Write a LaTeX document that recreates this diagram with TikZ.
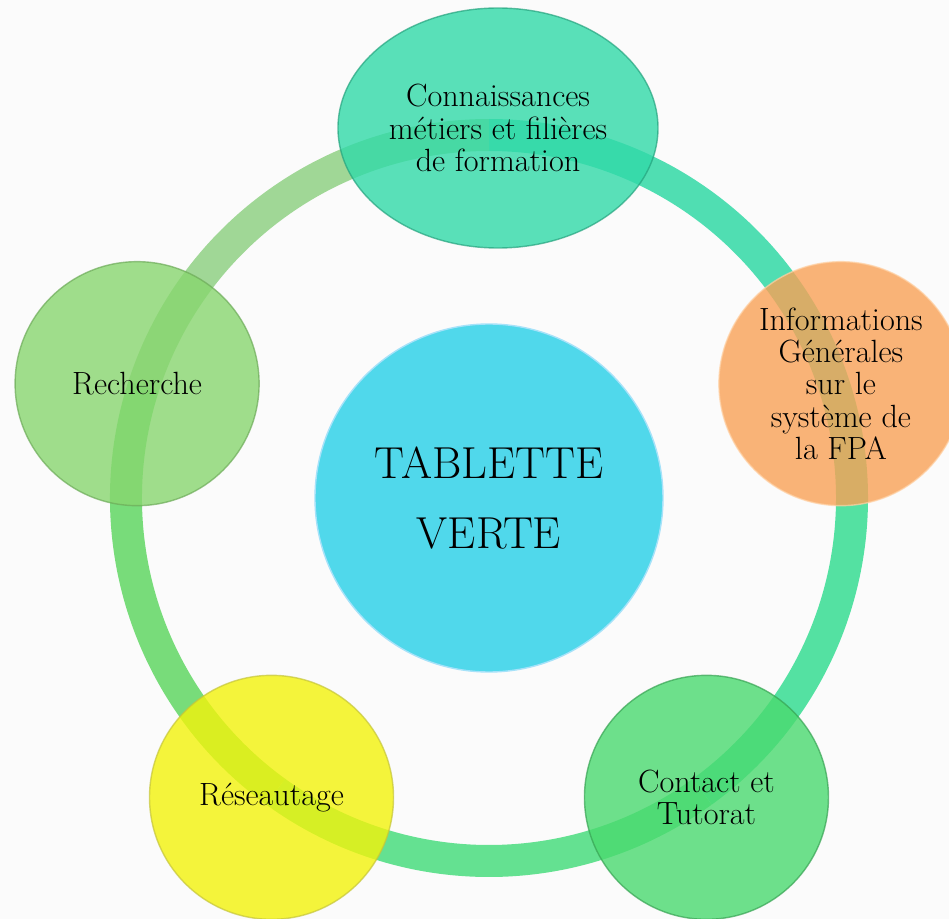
\documentclass[tikz,border=0pt]{standalone}
\usepackage{tikz}
\usetikzlibrary{shapes,positioning,backgrounds}
\definecolor{ringteal}{RGB}{80,222,178}
\definecolor{ringmint}{RGB}{84,225,162}
\definecolor{ringgreen}{RGB}{100,225,145}
\definecolor{ringleaf}{RGB}{120,220,122}
\definecolor{ringpale}{RGB}{160,215,150}
\definecolor{tealfill}{RGB}{49,218,168}
\definecolor{orangefill}{RGB}{249,161,86}
\definecolor{palefill}{RGB}{136,214,111}
\definecolor{yellowfill}{RGB}{243,243,11}
\definecolor{greenfill}{RGB}{74,218,111}
\definecolor{cyanfill}{RGB}{80,216,235}

\begin{document}
\begin{tikzpicture}[
  bubble_style/.style={circle, minimum size=4.88cm, inner sep=0pt, align=center,
    fill opacity=0.8, text opacity=1, draw opacity=0.7, line width=0.8pt,
    font=\fontsize{18.3}{18.4}\selectfont},
  hub_style/.style={circle, minimum size=6.96cm, inner sep=0pt, align=center,
    fill=cyanfill, draw=cyan!35, line width=0.8pt,
    font=\fontsize{25.5}{40}\selectfont},
  ring_style/.style={line width=0.64cm}]

  \useasboundingbox (-9.78,-8.42) rectangle (9.2,9.96);
  %
  \node (hub) [hub_style] at (0,0) {TABLETTE\\VERTE};
  \node (metiers) [bubble_style, ellipse, minimum width=6.4cm, minimum height=4.8cm,
    fill=tealfill, draw=tealfill!75!black] at (0.18,7.4)
    {Connaissances\\métiers et filières\\de formation};
  \node (infos) [bubble_style, fill=orangefill, draw=orange!35] at (18:7.4)
    {Informations\\Générales\\sur le\\système de\\la FPA};
  \node (contact) [bubble_style, fill=greenfill, draw=greenfill!75!black] at (306:7.4)
    {Contact et\\Tutorat};
  \node (reseau) [bubble_style, fill=yellowfill, draw=yellowfill!60!gray] at (234:7.4)
    {Réseautage};
  \node (recherche) [bubble_style, fill=palefill, draw=palefill!80!black] at (162:7.4)
    {Recherche};
  %
  \begin{scope}[on background layer]
    \fill[black!1.5] (-9.78,-8.42) rectangle (9.2,9.96);
    \foreach \a/\b/\c in {90/18/ringteal, 18/-54/ringmint, -54/-126/ringgreen,
                          -126/-198/ringleaf, 162/90/ringpale}
      \draw[ring_style, draw=\c] (hub.center) ++(\a:7.26)
        arc[start angle=\a, end angle=\b, radius=7.26];
  \end{scope}
\end{tikzpicture}
\end{document}
